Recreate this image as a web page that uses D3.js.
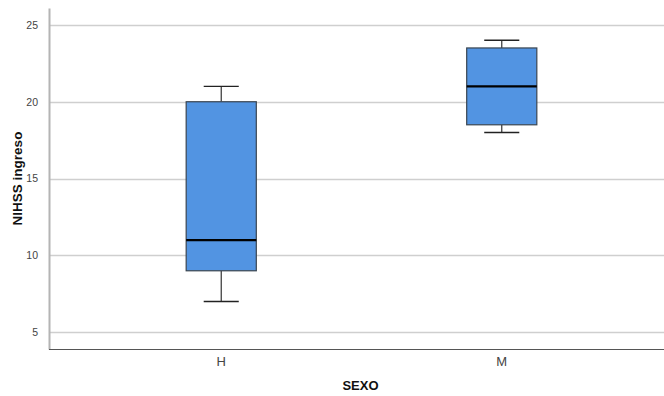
<!DOCTYPE html>
<html><head><meta charset="utf-8">
<script src="https://cdn.jsdelivr.net/npm/d3@7"></script>
<style>body{margin:0;background:#fff}svg{display:block}text{font-family:"Liberation Sans",Arial,sans-serif}</style>
</head><body>
<svg id="c" width="664" height="396"></svg>
<script>
const categories = ["H", "M"];
const whiskerLow = [7, 18];
const q1 = [9, 18.5];
const median = [11, 21];
const q3 = [20, 23.5];
const whiskerHigh = [21, 24];
const yTicks = [5, 10, 15, 20, 25];
const xTitle = "SEXO";
const yTitle = "NIHSS ingreso";

(function () {
const svg = d3.select("#c");
const pLeft = 49, pRight = 674, pTop = 8, pBottom = 349;
const x = d3.scaleBand().domain(categories).range([pLeft, pRight]).paddingInner(0).paddingOuter(0.114);
const y = d3.scaleLinear().domain([3.91, 26.1]).range([pBottom, pTop]);

// gridlines
svg.append("g").selectAll("line").data(yTicks).join("line")
  .attr("x1", pLeft).attr("x2", 664)
  .attr("y1", d => Math.round(y(d)) + 0.5).attr("y2", d => Math.round(y(d)) + 0.5)
  .attr("stroke", "#cfcfcf").attr("stroke-width", 1.3);

// y axis
const yAxis = svg.append("g").attr("transform", `translate(${pLeft},0)`)
  .call(d3.axisLeft(y).tickValues(yTicks).tickSize(0).tickPadding(11));
yAxis.select(".domain").attr("stroke", "#b4b4b4").attr("stroke-width", 2);
yAxis.selectAll("text").attr("font-size", 10.5).attr("fill", "#444");

// x axis
const xAxis = svg.append("g").attr("transform", `translate(0,${pBottom})`)
  .call(d3.axisBottom(x).tickSize(0).tickPadding(8));
xAxis.select(".domain").attr("d", `M${pLeft},0.5H664`).attr("stroke", "#555").attr("stroke-width", 1.2);
xAxis.selectAll("text").attr("font-size", 13).attr("fill", "#444");

// titles
svg.append("text").attr("x", (pLeft + pRight) / 2 - 1).attr("y", 390).attr("text-anchor", "middle")
  .attr("font-size", 13).attr("font-weight", "bold").attr("fill", "#111").text(xTitle);
svg.append("text").attr("transform", `translate(22,${(pTop + pBottom) / 2}) rotate(-90)`)
  .attr("text-anchor", "middle").attr("font-size", 13.5).attr("font-weight", "bold").attr("fill", "#111").text(yTitle);

// boxes
const bw = x.bandwidth() * 0.25;
const cw = x.bandwidth() * 0.125;
const g = svg.append("g");
categories.forEach((c, i) => {
  const cx = x(c) + x.bandwidth() / 2;
  g.append("line").attr("x1", cx).attr("x2", cx).attr("y1", y(whiskerHigh[i])).attr("y2", y(q3[i])).attr("stroke", "#333").attr("stroke-width", 1.2);
  g.append("line").attr("x1", cx).attr("x2", cx).attr("y1", y(q1[i])).attr("y2", y(whiskerLow[i])).attr("stroke", "#333").attr("stroke-width", 1.2);
  g.append("line").attr("x1", cx - cw / 2).attr("x2", cx + cw / 2).attr("y1", y(whiskerHigh[i])).attr("y2", y(whiskerHigh[i])).attr("stroke", "#222").attr("stroke-width", 1.4);
  g.append("line").attr("x1", cx - cw / 2).attr("x2", cx + cw / 2).attr("y1", y(whiskerLow[i])).attr("y2", y(whiskerLow[i])).attr("stroke", "#222").attr("stroke-width", 1.4);
  g.append("rect").attr("x", cx - bw / 2).attr("width", bw).attr("y", y(q3[i])).attr("height", y(q1[i]) - y(q3[i]))
    .attr("fill", "#5294e2").attr("stroke", "#3a4550").attr("stroke-width", 1.2);
  g.append("line").attr("x1", cx - bw / 2).attr("x2", cx + bw / 2).attr("y1", y(median[i])).attr("y2", y(median[i])).attr("stroke", "#000").attr("stroke-width", 2.2);
});
})();
</script>
</body></html>
